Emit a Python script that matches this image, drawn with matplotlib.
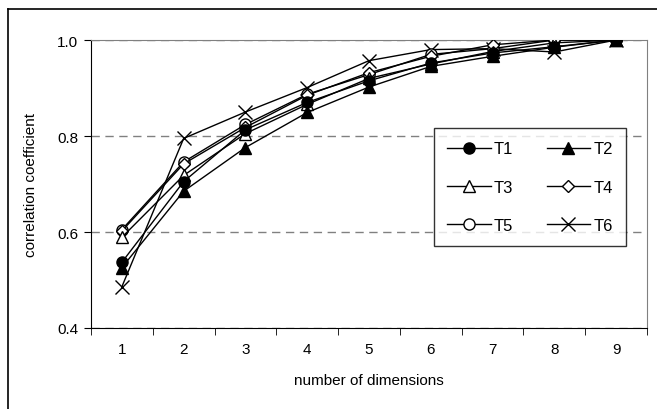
import matplotlib
matplotlib.use('Agg')
import matplotlib.pyplot as plt
from matplotlib.lines import Line2D

plt.rcParams['font.family'] = ['Liberation Sans', 'DejaVu Sans']

dims = [1, 2, 3, 4, 5, 6, 7, 8, 9]
t1 = [0.537, 0.705, 0.813, 0.870, 0.915, 0.952, 0.973, 0.986, 1.0]
t2 = [0.526, 0.685, 0.776, 0.849, 0.902, 0.945, 0.966, 0.985, 1.0]
t3 = [0.589, 0.718, 0.805, 0.866, 0.920, 0.950, 0.976, 0.994, 1.0]
t4 = [0.602, 0.742, 0.818, 0.885, 0.932, 0.966, 0.990, 1.0, 1.0]
t5 = [0.605, 0.746, 0.824, 0.887, 0.928, 0.970, 0.982, 1.0, 1.0]
t6 = [0.486, 0.795, 0.850, 0.901, 0.957, 0.980, 0.982, 0.975, 1.0]

series = [('T1', t1, 'o', 'black'), ('T2', t2, '^', 'black'),
          ('T3', t3, '^', 'white'), ('T4', t4, 'D', 'white'),
          ('T5', t5, 'o', 'white'), ('T6', t6, 'x', 'black')]
sizes = {'o': 8, '^': 8, 'D': 6, 'x': 10}

fig = plt.figure(figsize=(6.57, 4.10), dpi=100)
ax = fig.add_axes([91 / 657, 1 - 329 / 410, 556 / 657, 288 / 410])

handles = {}
# drawn last-to-first so T1 sits on top, as in the original
for i, (name, vals, mk, fc) in reversed(list(enumerate(series))):
    line, = ax.plot(dims, vals, color='black', linewidth=1.0, marker=mk,
                    markersize=sizes[mk], markerfacecolor=fc,
                    markeredgecolor='black', markeredgewidth=1.0,
                    label=name, zorder=3 + (6 - i) * 0.1)
    handles[name] = line

ax.set_xlim(0.5, 9.5)
ax.set_ylim(0.4, 1.0)
ax.set_yticks([0.4, 0.6, 0.8, 1.0])
ax.set_yticklabels(['0.4', '0.6', '0.8', '1.0'])
ax.set_xticks(dims)
ax.set_xticks([d + 0.5 for d in [0] + dims], minor=True)
ax.tick_params(axis='x', which='major', length=0, pad=10, labelsize=11)
ax.tick_params(axis='x', which='minor', length=5, direction='out')
ax.tick_params(axis='y', length=5, direction='out', labelsize=11, pad=4)

ax.grid(True, axis='y', linestyle=(0, (6, 4)), color='#808080', linewidth=1.0)
ax.spines['top'].set_color('#808080')
ax.spines['right'].set_color('#808080')
ax.spines['left'].set_color('black')
ax.spines['bottom'].set_color('black')

ax.set_xlabel('number of dimensions', fontsize=11, labelpad=12)
ax.set_ylabel('correlation coefficient', fontsize=11, labelpad=14)

# legend is filled row by row: T1 T2 / T3 T4 / T5 T6
order = ['T1', 'T3', 'T5', 'T2', 'T4', 'T6']
leg = ax.legend([handles[n] for n in order], order, ncol=2, loc='upper left',
                bbox_to_anchor=(343 / 556, 1 - 88 / 288),
                fontsize=12, frameon=True, fancybox=False, edgecolor='black',
                handlelength=2.6, handletextpad=0.2, columnspacing=2.0,
                labelspacing=1.4, borderpad=0.8, borderaxespad=0)
leg.get_frame().set_linewidth(1.0)

# outer frame of the original figure
fig.add_artist(Line2D([8 / 657, 8 / 657], [0, 1 - 10 / 410], transform=fig.transFigure,
                      color='black', linewidth=1.2))
fig.add_artist(Line2D([8 / 657, 1], [1 - 10 / 410, 1 - 10 / 410], transform=fig.transFigure,
                      color='black', linewidth=1.2))

fig.savefig('out.png', dpi=100)
